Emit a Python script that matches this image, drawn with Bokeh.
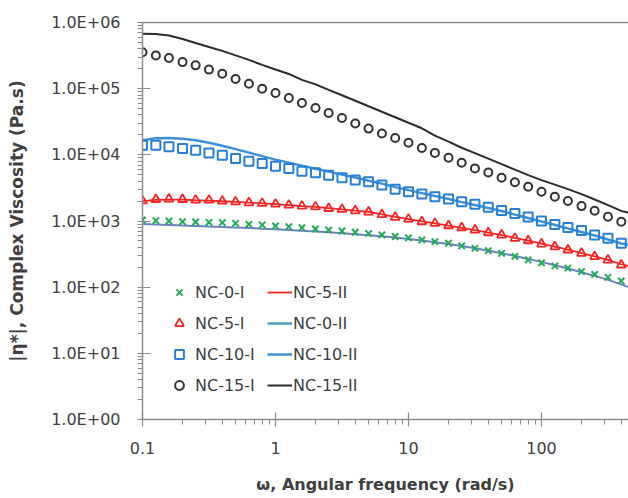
from bokeh.plotting import figure
from bokeh.models import (FixedTicker, CustomJSTickFormatter, LogAxis, Legend, LegendItem)
from bokeh.embed import file_html
from bokeh.resources import INLINE

# ---- data ----
freq = [0.1, 0.126, 0.158, 0.2, 0.251, 0.316, 0.398, 0.501, 0.631, 0.794,
        1.0, 1.26, 1.58, 2.0, 2.51, 3.16, 3.98, 5.01, 6.31, 7.94,
        10, 12.6, 15.8, 20, 25.1, 31.6, 39.8, 50.1, 63.1, 79.4,
        100, 126, 158, 200, 251, 316, 398]
freq_II = freq + [501]

nc0_I = [1035, 1010, 1000, 975, 966, 955, 942, 923, 891, 871,
         841, 820, 793, 757, 732, 706, 676, 648, 615, 583,
         555, 517, 488, 461, 420, 387, 356, 324, 292, 258,
         233, 209, 194, 172, 156, 141, 124]
nc5_I = [2020, 2120, 2150, 2120, 2070, 2070, 2000, 1950, 1890, 1850,
         1800, 1740, 1680, 1640, 1550, 1500, 1430, 1370, 1250, 1140,
         1070, 977, 924, 851, 793, 732, 667, 615, 548, 505,
         450, 409, 366, 326, 290, 258, 217]
nc10_I = [14000, 14000, 13200, 12500, 11700, 10700, 9890, 8810, 8020, 7410,
          6750, 6220, 5660, 5340, 4930, 4490, 4150, 3910, 3490, 3030,
          2770, 2550, 2320, 2150, 1950, 1790, 1610, 1440, 1300, 1150,
          1000, 885, 798, 719, 615, 548, 461]
nc15_I = [356000, 318000, 290000, 252000, 225000, 194000, 168000, 140000, 119000, 100000,
          85900, 72300, 60700, 51100, 43000, 36100, 29700, 24900, 21000, 18000,
          15200, 12700, 10700, 9020, 7570, 6240, 5420, 4500, 3840, 3290,
          2770, 2330, 2000, 1680, 1430, 1160, 975]

nc5_II = [2000, 2080, 2110, 2100, 2060, 2030, 1990, 1950, 1890, 1850,
          1800, 1740, 1680, 1630, 1570, 1500, 1440, 1370, 1260, 1150,
          1070, 985, 920, 850, 790, 730, 668, 612, 555, 505,
          455, 410, 368, 328, 292, 258, 222, 198]
nc0_II = [901, 886, 871, 855, 841, 826, 812, 798, 784, 766,
          750, 732, 712, 695, 676, 655, 632, 611, 588, 564,
          535, 508, 479, 450, 420, 387, 356, 326, 296, 267,
          241, 215, 191, 168, 148, 129, 110, 94]
nc10_II = [16600, 17800, 18000, 17500, 16600, 15200, 13700, 12200, 10800, 9550,
           8460, 7620, 6870, 6180, 5570, 5020, 4530, 4070, 3670, 3250,
           2930, 2640, 2380, 2150, 1930, 1740, 1570, 1420, 1250, 1110,
           982, 871, 771, 682, 604, 526, 458, 420]
nc15_II = [676000, 671000, 637000, 564000, 491000, 427000, 372000, 318000, 272000, 229000,
           195000, 167000, 136000, 116000, 95900, 79400, 65600, 54200, 44800, 37000,
           30500, 25200, 19500, 15800, 12800, 10600, 8750, 7230, 5970, 4930,
           4150, 3550, 3030, 2550, 2110, 1740, 1420, 1280]

x_ticks = [0.1, 1, 10, 100]
y_ticks = [1, 10, 100, 1000, 10000, 100000, 1000000]

FONT = "DejaVu Sans"
TXT = "#404040"
AX = "#8c8c8c"

p = figure(width=628, height=496, x_axis_type="log", y_axis_type="log",
           x_range=(0.1, 451), y_range=(1, 1e6),
           output_backend="svg", toolbar_location=None,
           min_border_left=142, min_border_right=0, min_border_top=22,
           min_border_bottom=76)
p.outline_line_color = None
p.grid.visible = False

x_minor = [m * d for d in [0.1, 1, 10, 100] for m in range(2, 10)]
y_minor = [m * d for d in [1, 10, 100, 1000, 10000, 100000] for m in range(2, 10)]

xa = p.xaxis[0]
xa.ticker = FixedTicker(ticks=x_ticks, minor_ticks=x_minor)
xa.formatter = CustomJSTickFormatter(code="return tick >= 1 ? tick.toFixed(0) : tick.toFixed(1);")
ya = p.yaxis[0]
ya.ticker = FixedTicker(ticks=y_ticks, minor_ticks=y_minor)
ya.formatter = CustomJSTickFormatter(code="""
const e = Math.round(Math.log10(tick));
const s = e < 0 ? '-' : '+';
const a = Math.abs(e);
return '1.0E' + s + (a < 10 ? '0' : '') + a;
""")

for ax in (xa, ya):
    ax.axis_line_color = AX
    ax.axis_line_width = 1.5
    ax.major_tick_line_color = AX
    ax.minor_tick_line_color = AX
    ax.major_tick_line_width = 1.2
    ax.minor_tick_line_width = 1
    ax.minor_tick_in = 0
    ax.minor_tick_out = 5
    ax.major_label_text_font = FONT
    ax.major_label_text_font_size = "16px"
    ax.major_label_text_color = TXT
    ax.axis_label_text_font = FONT
    ax.axis_label_text_font_style = "bold"
    ax.axis_label_text_color = TXT

xa.major_tick_in = 7
xa.major_tick_out = 7
xa.major_label_standoff = 15
xa.axis_label = "ω, Angular frequency (rad/s)"
xa.axis_label_text_font_size = "16px"
xa.axis_label_standoff = 18

ya.major_tick_in = 8
ya.major_tick_out = 5
ya.major_label_standoff = 17
ya.axis_label = "|η*|, Complex Viscosity (Pa.s)"
ya.axis_label_text_font_size = "17px"
ya.axis_label_standoff = 21

top = LogAxis(ticker=FixedTicker(ticks=[]), axis_line_color=AX, axis_line_width=1.5,
              major_tick_line_color=None, minor_tick_line_color=None,
              major_label_text_font_size="0px")
p.add_layout(top, "above")

GREEN = "#2aa85a"
RED = "#f52525"
BLUE = "#2a7fd4"
BLACK = "#333333"

l15 = p.line(freq_II, nc15_II, line_color="#2b2b2b", line_width=2)
l10 = p.line(freq_II, nc10_II, line_color="#3d8fd8", line_width=2.5)
l5 = p.line(freq_II, nc5_II, line_color=RED, line_width=1.8)
l0 = p.line(freq_II, nc0_II, line_color="#6b82c2", line_width=2)

s0 = p.scatter(freq, nc0_I, marker="x", size=9, line_color=GREEN, line_width=2)
s5 = p.scatter(freq, nc5_I, marker="triangle", size=9, line_color=RED, fill_color=None, line_width=1.8)
s10 = p.scatter(freq, nc10_I, marker="square", size=9, line_color=BLUE, fill_color=None, line_width=2)
s15 = p.scatter(freq, nc15_I, marker="circle", size=8, line_color=BLACK, fill_color=None, line_width=2)

# legend proxy for NC-0-II (its legend swatch is teal)
nan = float("nan")
l0_leg = p.line([0.1, 0.2], [nan, nan], line_color="#4aa3b8", line_width=2.5)

common = dict(background_fill_alpha=0, border_line_color=None, padding=0, margin=0,
              spacing=9, label_height=22, glyph_height=22,
              label_text_font=FONT, label_text_font_size="16px", label_text_color=TXT)

leg1 = Legend(items=[LegendItem(label="NC-0-I", renderers=[s0]),
                     LegendItem(label="NC-5-I", renderers=[s5]),
                     LegendItem(label="NC-10-I", renderers=[s10]),
                     LegendItem(label="NC-15-I", renderers=[s15])],
              location=(26, 23), glyph_width=22, label_standoff=5, **common)
leg2 = Legend(items=[LegendItem(label="NC-5-II", renderers=[l5]),
                     LegendItem(label="NC-0-II", renderers=[l0_leg]),
                     LegendItem(label="NC-10-II", renderers=[l10]),
                     LegendItem(label="NC-15-II", renderers=[l15])],
              location=(125, 23), glyph_width=25, label_standoff=1, **common)
p.add_layout(leg1)
p.add_layout(leg2)

open("out.html", "w").write(file_html(p, INLINE))
